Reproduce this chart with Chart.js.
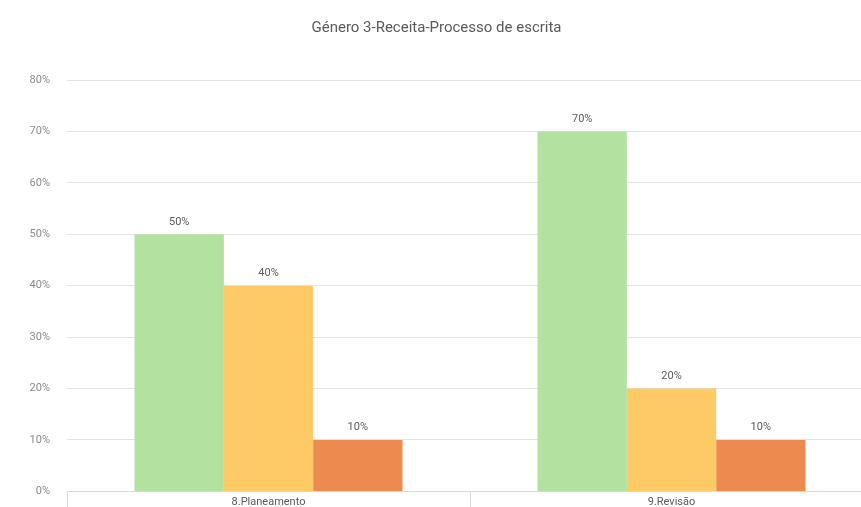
<!DOCTYPE html>
<html>
<head>
<meta charset="utf-8">
<script src="https://cdn.jsdelivr.net/npm/chart.js@4"></script>
<style>
  html, body { margin: 0; padding: 0; background: #fff; overflow: hidden; }
  #wrap { width: 874px; height: 515px; }
</style>
</head>
<body>
<div id="wrap"><canvas id="myChart" width="874" height="515"></canvas></div>
<script>
var categories = ['8.Planeamento', '9.Revisão'];
var seriesA = [50, 70];
var seriesB = [40, 20];
var seriesC = [10, 10];
var chartTitle = 'Género 3-Receita-Processo de escrita';

// draws the value above every bar
var valueLabels = {
  id: 'valueLabels',
  afterDatasetsDraw: function(chart) {
    var ctx = chart.ctx;
    ctx.save();
    ctx.fillStyle = '#595959';
    ctx.font = '11px Roboto';
    ctx.textAlign = 'center';
    ctx.textBaseline = 'bottom';
    chart.data.datasets.forEach(function(ds, i) {
      chart.getDatasetMeta(i).data.forEach(function(bar, j) {
        ctx.fillText(ds.data[j] + '%', bar.x, bar.y - 7);
      });
    });
    ctx.restore();
  }
};

Chart.defaults.font.family = 'Roboto';
Chart.defaults.color = '#595959';

var ctx = document.getElementById('myChart').getContext('2d');
window.myBar = new Chart(ctx, {
  type: 'bar',
  data: {
    labels: categories,
    datasets: [
      { data: seriesA, backgroundColor: '#b3e2a0' },
      { data: seriesB, backgroundColor: '#fdca66' },
      { data: seriesC, backgroundColor: '#ec8a50' }
    ]
  },
  options: {
    responsive: false,
    animation: false,
    categoryPercentage: 0.665,
    barPercentage: 1,
    layout: { padding: { left: 0, right: 1, top: 0, bottom: 0 } },
    plugins: {
      legend: { display: false },
      tooltip: { enabled: false },
      title: {
        display: true,
        text: chartTitle,
        color: '#595959',
        font: { size: 15, weight: 'normal' },
        padding: { top: 19, bottom: 43 }
      }
    },
    scales: {
      x: {
        grid: { drawOnChartArea: false, color: '#d9d9d9', tickLength: 20 },
        border: { color: '#d9d9d9' },
        ticks: { padding: -16, font: { size: 11 }, color: '#595959' },
        afterFit: function(s) { s.height = 23; }
      },
      y: {
        min: 0,
        max: 80,
        ticks: {
          stepSize: 10,
          padding: 17,
          font: { size: 11 },
          color: '#8a8a8a',
          callback: function(v) { return v + '%'; }
        },
        grid: { color: '#e3e3e3', drawTicks: false },
        border: { display: false },
        afterFit: function(s) { s.width = 67; }
      }
    }
  },
  plugins: [valueLabels]
});
</script>
</body>
</html>
